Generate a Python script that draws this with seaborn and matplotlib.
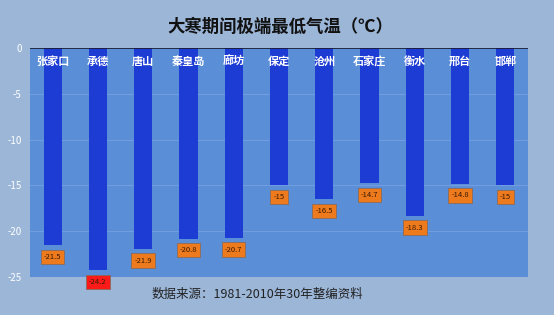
import matplotlib
matplotlib.use('Agg')
import matplotlib.pyplot as plt
import seaborn as sns

cities = ['张家口', '承德', '唐山', '秦皇岛', '廊坊', '保定', '沧州', '石家庄', '衡水', '邢台', '邯郸']
min_temps = [-21.5, -24.2, -21.9, -20.8, -20.7, -15, -16.5, -14.7, -18.3, -14.8, -15]
yticks = [0, -5, -10, -15, -20, -25]

sns.set_style('white')
plt.rcParams['font.family'] = ['Noto Sans CJK SC', 'DejaVu Sans']

fig = plt.figure(figsize=(5.54, 3.15), dpi=100, facecolor='#9CB6D8')
ax = fig.add_axes([30 / 554, 1 - 277 / 315, 498 / 554, 229 / 315])
ax.set_facecolor('#5A8ED6')

sns.barplot(x=cities, y=min_temps, color='#1D3CD4', saturation=1, width=0.4,
            edgecolor='none', linewidth=0, ax=ax)

ax.set_ylim(-25, 0)
ax.set_xlim(-0.5, len(cities) - 0.5)
ax.set_yticks(yticks)
ax.set_yticklabels([str(t) for t in yticks], color='white', fontsize=7)
ax.set_xticks([])
ax.set_xlabel('')
ax.tick_params(axis='y', length=0, pad=6)
for t in yticks[1:]:
    ax.axhline(t, color='#6F9EE0', lw=0.8, zorder=0)
ax.axhline(0, color='#1A1A2A', lw=1.2, zorder=3)
for s in ax.spines.values():
    s.set_visible(False)

lowest = min(min_temps)
for i, (c, v) in enumerate(zip(cities, min_temps)):
    ax.text(i, -1.5, c, ha='center', va='center', color='white', fontsize=8, fontweight='bold', zorder=5)
    box = '#FF1A1A' if v == lowest else '#EE7A1E'
    ax.text(i, v - 1.3, f'{v:g}', ha='center', va='center', fontsize=5.5, color='#3A1A00',
            bbox=dict(boxstyle='square,pad=0.4', fc=box, ec='#8A6A5A', lw=0.6), clip_on=False)

fig.text(0.505, 0.915, '大寒期间极端最低气温（℃）', ha='center', va='center', fontsize=12.5,
         fontweight='bold', color='#111111')
fig.text(0.465, 0.065, '数据来源：1981-2010年30年整编资料', ha='center', va='center', fontsize=9,
         color='#222222')

plt.savefig('out.png', dpi=100, facecolor=fig.get_facecolor())
